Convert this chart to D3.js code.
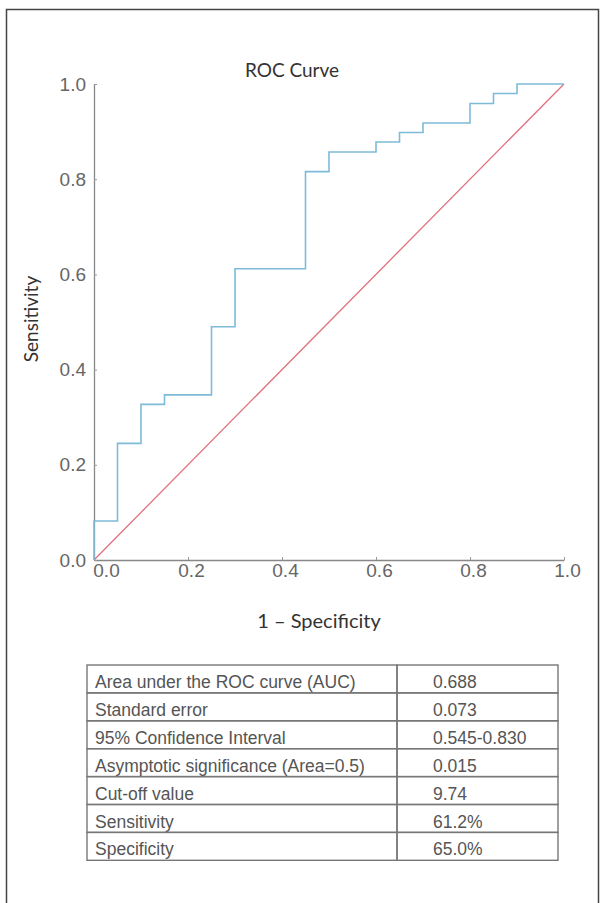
<!DOCTYPE html>
<html>
<head>
<meta charset="utf-8">
<script src="https://cdn.jsdelivr.net/npm/d3@7"></script>
<style>
  body { margin: 0; background: #fff; }
</style>
</head>
<body>
<div id="chart"></div>
<script>
// ROC curve points (1 - specificity, sensitivity)
var fpr = [0, 0, 0.05, 0.10, 0.15, 0.25, 0.30, 0.45, 0.50, 0.60, 0.65, 0.70, 0.80, 0.85, 0.90, 1.0]
var tpr = [0, 0.082, 0.245, 0.327, 0.347, 0.490, 0.612, 0.816, 0.857, 0.878, 0.898, 0.918, 0.959, 0.980, 1.0, 1.0]
var refLine = [0, 1]
var tickValues = [0, 0.2, 0.4, 0.6, 0.8, 1.0]

var statLabels = ["Area under the ROC curve (AUC)", "Standard error", "95% Confidence Interval",
  "Asymptotic significance (Area=0.5)", "Cut-off value", "Sensitivity", "Specificity"]
var statValues = ["0.688", "0.073", "0.545-0.830", "0.015", "9.74", "61.2%", "65.0%"]

var width = 605
var height = 903
var humanist = "Lato, 'Open Sans', sans-serif"
var arial = "'Liberation Sans', Arial, sans-serif"

var svg = d3.select("#chart").append("svg")
  .attr("width", width)
  .attr("height", height)

// page frame
svg.append("rect")
  .attr("x", 6.5)
  .attr("y", 9.5)
  .attr("width", 592)
  .attr("height", 900)
  .attr("fill", "none")
  .attr("stroke", "#444")
  .attr("stroke-width", 1.5)

var x = d3.scaleLinear()
  .domain([0, 1])
  .range([94, 564])

var y = d3.scaleLinear()
  .domain([0, 1])
  .range([560, 84])

var xAxis = g => g
  .attr("transform", `translate(0,${y(0)})`)
  .call(d3.axisBottom(x).tickValues(tickValues).tickFormat(d3.format(".1f"))
    .tickSizeInner(-3).tickSizeOuter(0).tickPadding(4))
  .call(g => g.selectAll(".tick text").attr("dx", (d, i) => i == 0 ? 12 : 3))

var yAxis = g => g
  .attr("transform", `translate(${x(0)},0)`)
  .call(d3.axisLeft(y).tickValues(tickValues).tickFormat(d3.format(".1f"))
    .tickSizeInner(-3).tickSizeOuter(0).tickPadding(8))

function styleAxis(g) {
  g.select(".domain").attr("stroke", "#888").attr("stroke-width", 1.3)
  g.selectAll(".tick line").attr("stroke", "#999")
  g.selectAll(".tick text")
    .attr("fill", "#666")
    .style("font", "19px " + arial)
}

svg.append("g").call(xAxis).call(styleAxis)
svg.append("g").call(yAxis).call(styleAxis)

// reference diagonal
var diag = d3.line()
  .x(d => x(d))
  .y(d => y(d))

svg.append("path")
  .datum(refLine)
  .attr("fill", "none")
  .attr("stroke", "#e0707e")
  .attr("stroke-width", 1.3)
  .attr("d", diag)

// ROC step curve
var roc = d3.line()
  .curve(d3.curveStepAfter)
  .x((d, i) => x(fpr[i]))
  .y((d, i) => y(tpr[i]))

svg.append("path")
  .datum(fpr)
  .attr("fill", "none")
  .attr("stroke", "#7dbbd9")
  .attr("stroke-width", 1.6)
  .attr("d", roc)

// titles
svg.append("text")
  .attr("x", 292)
  .attr("y", 77)
  .attr("text-anchor", "middle")
  .attr("fill", "#333")
  .style("font", "19px " + humanist)
  .text("ROC Curve")

svg.append("text")
  .attr("x", 319)
  .attr("y", 628)
  .attr("text-anchor", "middle")
  .attr("fill", "#333")
  .style("font", "20px " + humanist)
  .text("1 \u2013 Specificity")

svg.append("text")
  .attr("transform", "translate(38,319) rotate(-90)")
  .attr("text-anchor", "middle")
  .attr("fill", "#333")
  .style("font", "19px " + humanist)
  .text("Sensitivity")

// statistics table
var tableX = 87
var tableY = 665
var col1 = 310
var col2 = 161
var rowH = 27.9

var table = svg.append("g")
  .attr("transform", `translate(${tableX},${tableY})`)

var rows = table.selectAll("g")
  .data(statLabels)
  .join("g")
  .attr("transform", (d, i) => `translate(0,${i * rowH})`)

rows.append("rect")
  .attr("width", col1)
  .attr("height", rowH)
  .attr("fill", "none")
  .attr("stroke", "#777")
  .attr("stroke-width", 1.4)

rows.append("rect")
  .attr("x", col1)
  .attr("width", col2)
  .attr("height", rowH)
  .attr("fill", "none")
  .attr("stroke", "#777")
  .attr("stroke-width", 1.4)

rows.append("text")
  .attr("x", 8)
  .attr("y", 23)
  .attr("fill", "#555")
  .style("font", "17.5px " + arial)
  .text(d => d)

rows.append("text")
  .attr("x", 346)
  .attr("y", 23)
  .attr("fill", "#555")
  .style("font", "17.5px " + arial)
  .text((d, i) => statValues[i])
</script>
</body>
</html>
